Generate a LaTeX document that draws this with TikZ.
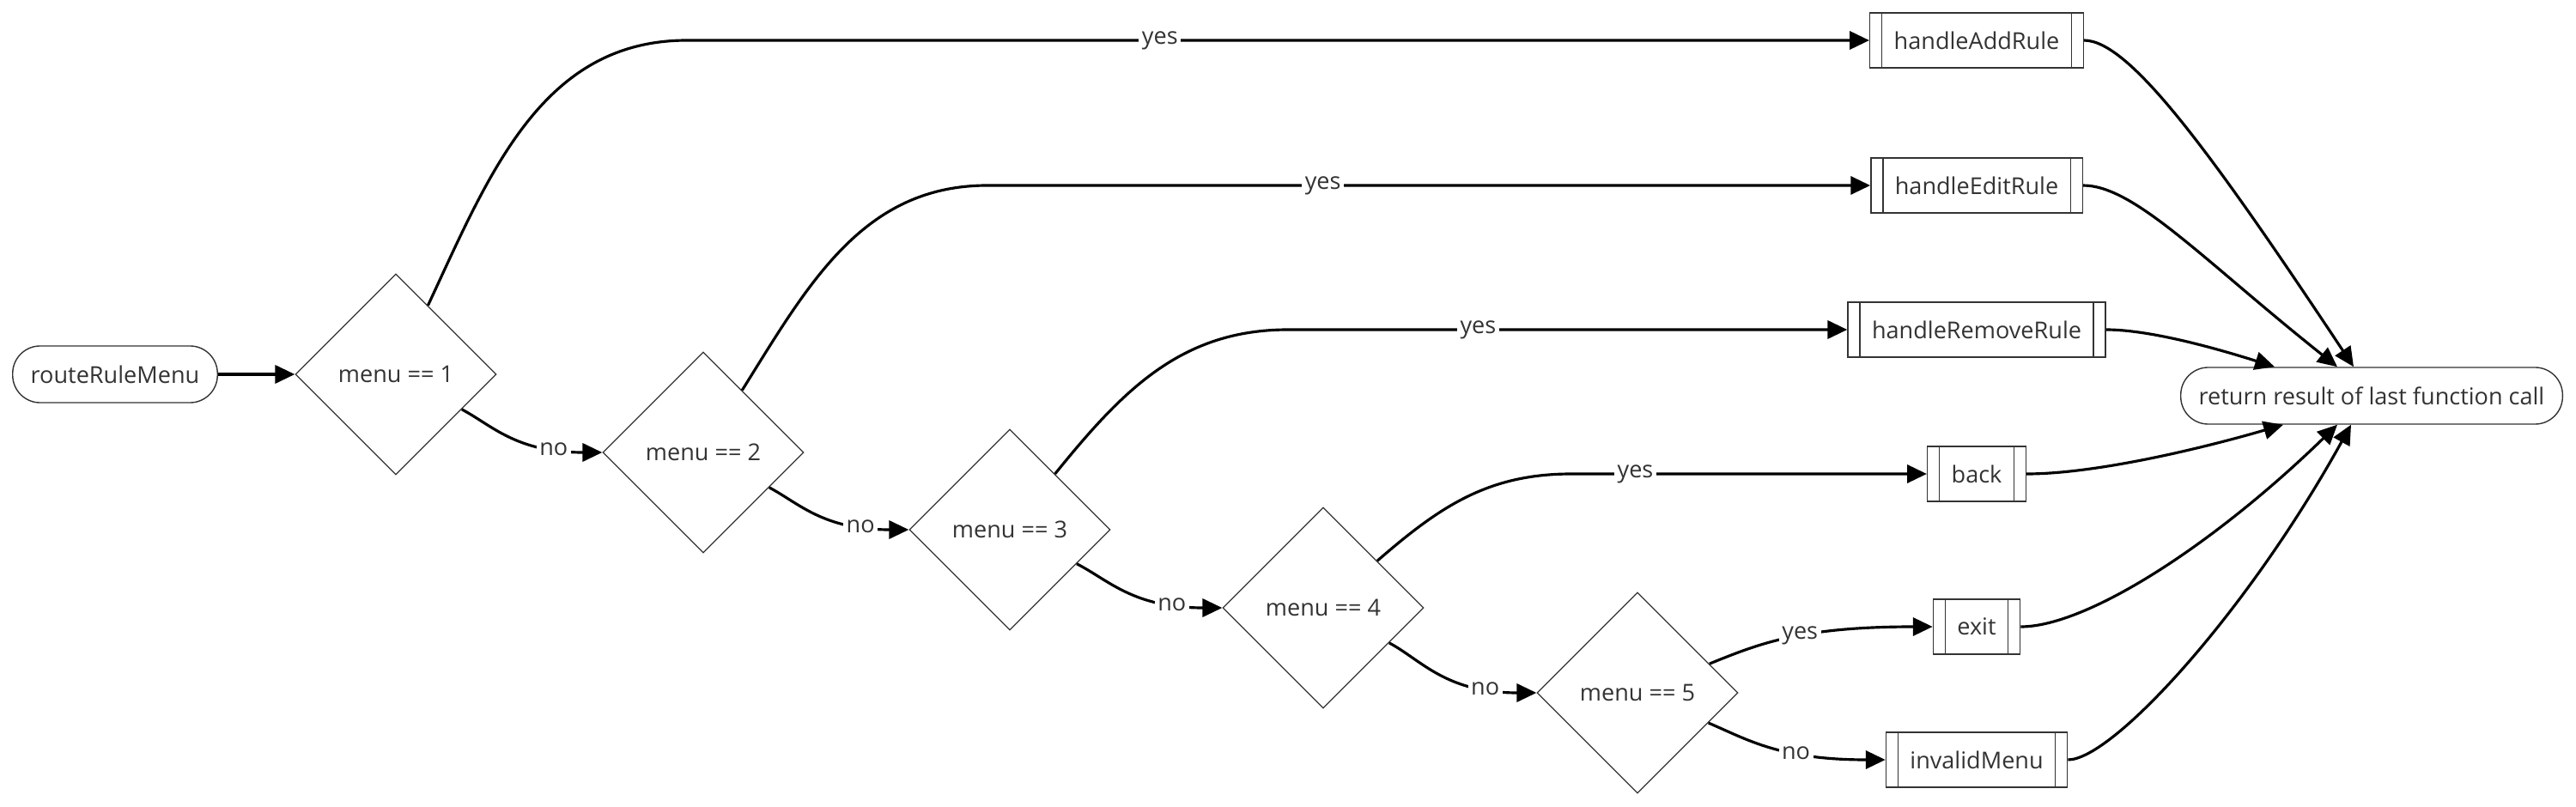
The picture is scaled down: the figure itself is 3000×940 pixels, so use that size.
\documentclass[tikz,border=0pt]{standalone}
\usepackage{fontspec}
\setmainfont{Open Sans}
\usetikzlibrary{shapes.geometric,arrows.meta,calc}

\definecolor{txt}{HTML}{333333}

\tikzset{
  every node/.style={font=\fontsize{7.7}{9}\selectfont, text=txt},
  term/.style={draw=txt, line width=0.4pt, rounded corners=0.32cm,
    minimum height=0.66cm, inner xsep=0.21cm},
  cond/.style={diamond, aspect=1, draw=txt, line width=0.35pt,
    minimum width=2.34cm, minimum height=2.34cm, inner sep=0pt},
  sub/.style={draw=txt, line width=0.4pt, minimum height=0.64cm, inner xsep=0.28cm,
    path picture={
      \draw[txt, line width=0.4pt]
        ([xshift=0.14cm]path picture bounding box.north west) -- ([xshift=0.14cm]path picture bounding box.south west)
        ([xshift=-0.14cm]path picture bounding box.north east) -- ([xshift=-0.14cm]path picture bounding box.south east);
    }},
  flow/.style={draw=black, line width=0.9pt, -{Triangle[length=6.5pt,width=6pt]}},
  lbl/.style={fill=white, inner sep=1pt},
  flatend/.style={out looseness=0.6, in looseness=1.5},
}

\begin{document}
\begin{tikzpicture}[x=0.01cm, y=-0.01cm]
  \useasboundingbox (0,0) rectangle (3000,940);

  % nodes
  \node[term] (start) at (134,436) {routeRuleMenu};
  \node[cond] (d1) at (461,436) {menu == 1};
  \node[cond] (d2) at (819,527) {menu == 2};
  \node[cond] (d3) at (1176,617) {menu == 3};
  \node[cond] (d4) at (1541,708) {menu == 4};
  \node[cond] (d5) at (1907,807) {menu == 5};

  \node[sub] (add) at (2302,47) {handleAddRule};
  \node[sub] (edit) at (2302,216) {handleEditRule};
  \node[sub] (remove) at (2302,384) {handleRemoveRule};
  \node[sub] (back) at (2302,552) {back};
  \node[sub] (exit) at (2302,730) {exit};
  \node[sub] (invalid) at (2302,885) {invalidMenu};

  \node[term] (ret) at (2762,461) {return result of last function call};

  % decisions
  \draw[flow] (start) -- (d1);
  \draw[flow] (d1.65) to[out=65,in=180] (add.west -| 800,0)
    -- node[lbl,pos=0.4] {yes} (add);
  \draw[flow] (d1.-28) to[out=-28,in=180,flatend] node[lbl,pos=0.78] {no} (d2);
  \draw[flow] (d2.58) to[out=58,in=180] (edit.west -| 1150,0)
    -- node[lbl,pos=0.38] {yes} (edit);
  \draw[flow] (d2.-28) to[out=-28,in=180,flatend] node[lbl,pos=0.78] {no} (d3);
  \draw[flow] (d3.51) to[out=51,in=180] (remove.west -| 1500,0)
    -- node[lbl,pos=0.34] {yes} (remove);
  \draw[flow] (d3.-27) to[out=-27,in=180,flatend] node[lbl,pos=0.78] {no} (d4);
  \draw[flow] (d4.41) to[out=41,in=180] (back.west -| 1830,0)
    -- node[lbl,pos=0.18] {yes} (back);
  \draw[flow] (d4.-28) to[out=-28,in=180,flatend] node[lbl,pos=0.78] {no} (d5);
  \draw[flow] (d5.22) to[out=22,in=180,flatend] node[lbl,pos=0.55] {yes} (exit);
  \draw[flow] (d5.-23) to[out=-23,in=180,flatend] node[lbl,pos=0.64] {no} (invalid);

  % back to the caller
  \draw[flow] (add.east) .. controls +(53,0) and +(-166,-250) .. ($(ret.north)+(-21,0)$);
  \draw[flow] (edit.east) .. controls +(60,0) and +(-156,-124) .. ($(ret.north)+(-40,0)$);
  \draw[flow] (remove.east) .. controls +(48,0) and +(-76,-24) .. ($(ret.north)+(-113,0)$);
  \draw[flow] (back.east) .. controls +(80,0) and +(-96,28) .. ($(ret.south)+(-103,0)$);
  \draw[flow] (exit.east) .. controls +(77,0) and +(-144,140) .. ($(ret.south)+(-40,0)$);
  \draw[flow] (invalid.east) .. controls +(52,0) and +(-121,219) .. ($(ret.south)+(-24,0)$);
\end{tikzpicture}
\end{document}
